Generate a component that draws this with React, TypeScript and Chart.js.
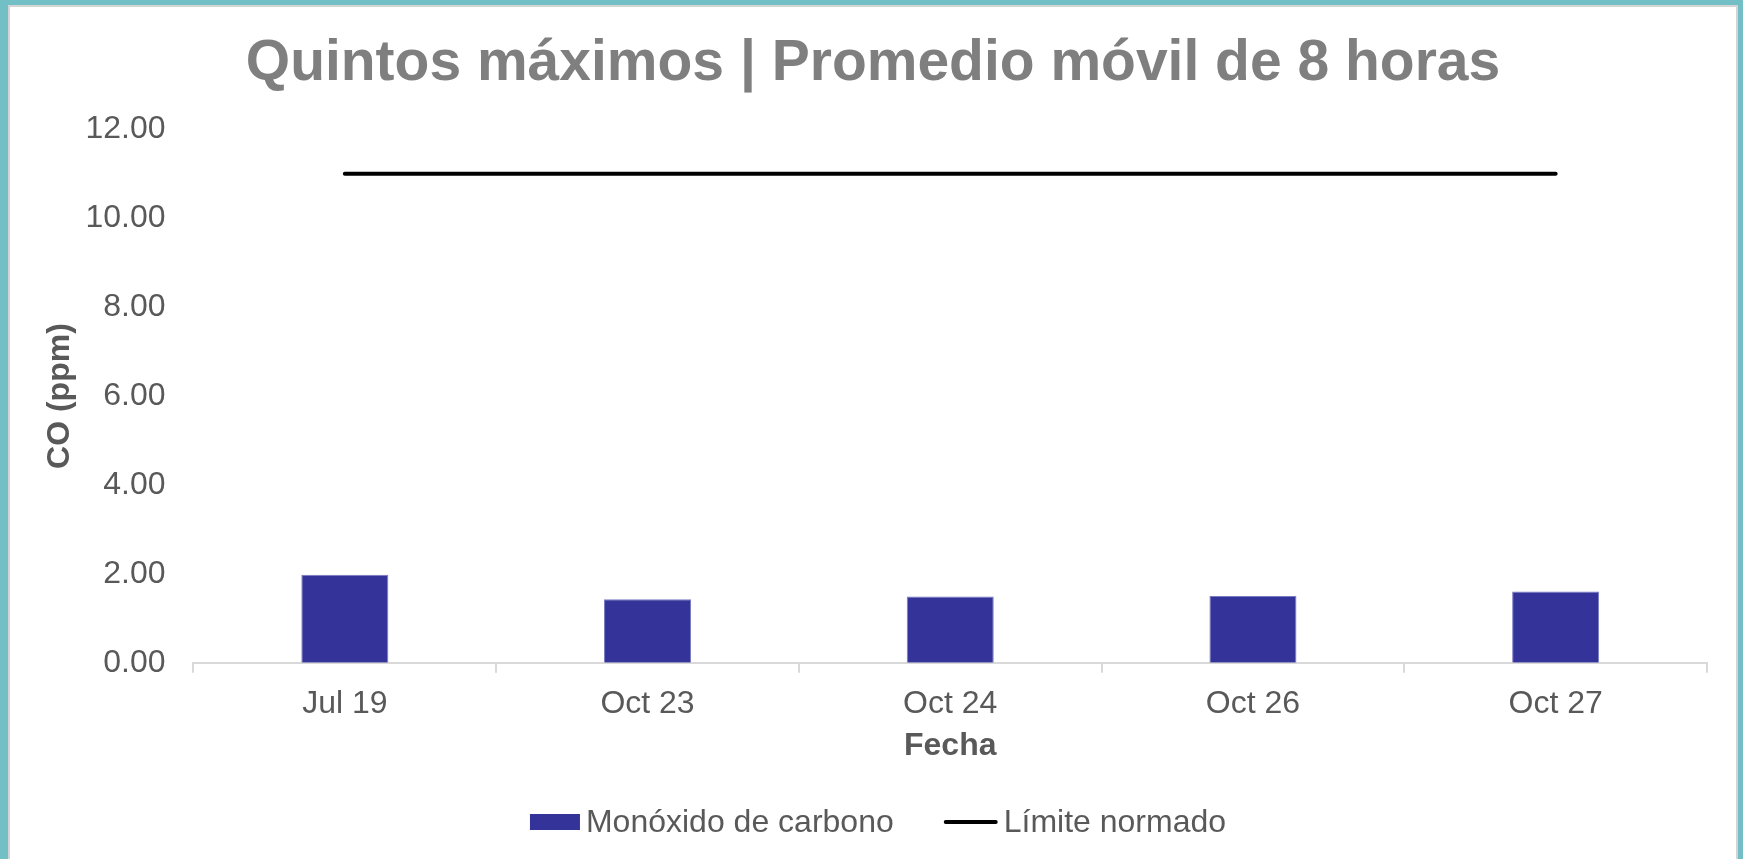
import React, { useEffect, useRef } from 'react';
import { Chart, registerables } from 'chart.js';

Chart.register(...registerables);

const CATEGORIES = ['Jul 19', 'Oct 23', 'Oct 24', 'Oct 26', 'Oct 27'];
const CO_VALUES = [1.98, 1.43, 1.49, 1.5, 1.6];
const LIMIT_VALUES = [11, 11, 11, 11, 11];
const Y_MIN = 0;
const Y_MAX = 12;
const Y_STEP = 2;

const TITLE = 'Quintos máximos | Promedio móvil de 8 horas';
const Y_TITLE = 'CO (ppm)';
const X_TITLE = 'Fecha';
const SERIES_BAR = 'Monóxido de carbono';
const SERIES_LINE = 'Límite normado';

const FONT = '"Liberation Sans", Arial, Helvetica, sans-serif';
const TEXT_COLOR = '#595959';
const BAR_COLOR = '#333399';

const customLegend = {
  id: 'customLegend',
  afterDraw(chart: any) {
    const ctx = chart.ctx as CanvasRenderingContext2D;
    const datasets = chart.data.datasets;
    ctx.save();
    ctx.font = `32px ${FONT}`;
    ctx.textBaseline = 'middle';
    ctx.textAlign = 'left';
    const boxW = 50;
    const lineW = 54;
    const gapText = 6;
    const gapItem = 50;
    const items = datasets.map((d: any) => ({
      label: d.label,
      type: d.type || 'bar',
      color: d.type === 'line' ? d.borderColor : d.backgroundColor,
      width: (d.type === 'line' ? lineW : boxW) + gapText + ctx.measureText(d.label).width,
    }));
    const total = items.reduce((s: number, it: any) => s + it.width, 0) + gapItem * (items.length - 1);
    let x = chart.width / 2 - total / 2 + 5;
    const cy = chart.height - 37;
    items.forEach((it: any) => {
      if (it.type === 'line') {
        ctx.strokeStyle = it.color;
        ctx.lineWidth = 4;
        ctx.lineCap = 'round';
        ctx.beginPath();
        ctx.moveTo(x + 2, cy);
        ctx.lineTo(x + lineW - 2, cy);
        ctx.stroke();
        x += lineW + gapText;
      } else {
        ctx.fillStyle = it.color;
        ctx.fillRect(x, cy - 8, boxW, 16);
        x += boxW + gapText;
      }
      ctx.fillStyle = TEXT_COLOR;
      ctx.fillText(it.label, x, cy + 1);
      x += ctx.measureText(it.label).width + gapItem;
    });
    ctx.restore();
  },
};

export default function App() {
  const canvasRef = useRef<HTMLCanvasElement | null>(null);

  useEffect(() => {
    document.body.style.margin = '0';
    const canvas = canvasRef.current;
    if (!canvas) return;
    const chart = new Chart(canvas, {
      type: 'bar',
      data: {
        labels: CATEGORIES,
        datasets: [
          {
            type: 'bar',
            label: SERIES_BAR,
            data: CO_VALUES,
            backgroundColor: BAR_COLOR,
            borderColor: '#7A7AC2',
            borderWidth: 1,
            categoryPercentage: 1,
            barPercentage: 0.2875,
            order: 2,
          },
          {
            type: 'line',
            label: SERIES_LINE,
            data: LIMIT_VALUES,
            borderColor: '#000000',
            backgroundColor: '#000000',
            borderWidth: 4,
            borderCapStyle: 'round',
            pointRadius: 0,
            pointHoverRadius: 0,
            fill: false,
            order: 1,
          } as any,
        ],
      },
      options: {
        animation: false,
        responsive: true,
        maintainAspectRatio: false,
        layout: { padding: { left: 0, right: 0, top: 0, bottom: 90 } },
        plugins: {
          legend: { display: false },
          tooltip: { enabled: false },
          title: {
            display: true,
            text: TITLE,
            color: '#7F7F7F',
            font: { family: FONT, size: 57, weight: 'bold' },
            padding: { top: 23, bottom: 31 },
          },
        },
        scales: {
          x: {
            offset: true,
            grid: {
              display: true,
              drawOnChartArea: false,
              drawTicks: true,
              tickLength: 10,
              color: '#D9D9D9',
              lineWidth: 2,
              offset: true,
            },
            border: { display: true, color: '#D9D9D9', width: 2 },
            ticks: { font: { family: FONT, size: 32 }, color: TEXT_COLOR, padding: 12 },
            title: {
              display: true,
              text: X_TITLE,
              color: TEXT_COLOR,
              font: { family: FONT, size: 32, weight: 'bold' },
              padding: { top: -8.5, bottom: 4 },
            },
          },
          y: {
            min: Y_MIN,
            max: Y_MAX,
            grid: { display: false, drawTicks: false },
            border: { display: false },
            ticks: {
              stepSize: Y_STEP,
              font: { family: FONT, size: 32 },
              color: TEXT_COLOR,
              padding: 28,
              callback: (v: any) => Number(v).toFixed(2),
            },
            title: {
              display: true,
              text: Y_TITLE,
              color: TEXT_COLOR,
              font: { family: FONT, size: 32, weight: 'bold' },
              padding: { top: 31, bottom: -22 },
            },
          },
          rightSpace: {
            position: 'right',
            display: true,
            grid: { display: false, drawTicks: false },
            border: { display: false },
            ticks: { display: false },
            afterFit: (scale: any) => {
              scale.width = 29;
            },
          } as any,
        },
      },
      plugins: [customLegend],
    });
    return () => chart.destroy();
  }, []);

  return (
    <div
      style={{
        position: 'absolute',
        left: 0,
        top: 0,
        width: 1743,
        height: 859,
        boxSizing: 'border-box',
        borderLeft: '8px solid #72BFC5',
        borderTop: '5px solid #72BFC5',
        borderRight: '5px solid #72BFC5',
        background: '#ffffff',
      }}
    >
      <div
        style={{
          width: '100%',
          height: '100%',
          boxSizing: 'border-box',
          borderLeft: '2px solid #D4D4D4',
          borderTop: '2px solid #D4D4D4',
          borderRight: '2px solid #D4D4D4',
        }}
      >
        <div style={{ position: 'relative', width: 1726, height: 852 }}>
          <canvas ref={canvasRef} />
        </div>
      </div>
    </div>
  );
}
